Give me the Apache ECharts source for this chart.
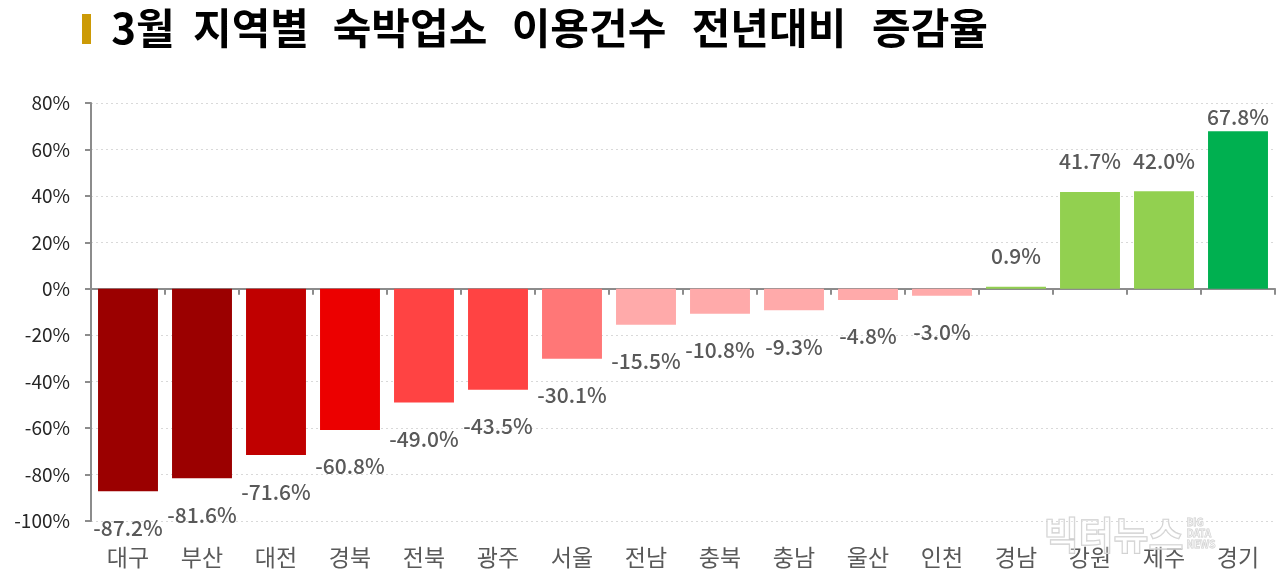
<!DOCTYPE html>
<html><head><meta charset="utf-8">
<script src="https://cdn.jsdelivr.net/npm/echarts@6/dist/echarts.min.js"></script>
<style>html,body{margin:0;padding:0;background:#fff}#c{width:1280px;height:584px}</style>
</head><body><div id="c"></div>
<script>
const categories = ['대구','부산','대전','경북','전북','광주','서울','전남','충북','충남','울산','인천','경남','강원','제주','경기'];
const values = [-87.2,-81.6,-71.6,-60.8,-49.0,-43.5,-30.1,-15.5,-10.8,-9.3,-4.8,-3.0,0.9,41.7,42.0,67.8];
const colors = ['#9B0000','#9B0000','#C00000','#EC0000','#FF4343','#FF4343','#FF7777','#FFAAAA','#FFAAAA','#FFAAAA','#FFAAAA','#FFAAAA','#92D050','#92D050','#92D050','#00B050'];
const yTicks = [-100,-80,-60,-40,-20,0,20,40,60,80];
const titleWords = ['3월','지역별','숙박업소','이용건수','전년대비','증감율'];

const FONT = '"Noto Sans CJK KR", sans-serif';
const chart = echarts.init(document.getElementById('c'));
const data = values.map((v,i)=>({
  value: v,
  itemStyle: {color: colors[i]},
  label: {
    position: v < 0 ? 'bottom' : 'top',
    distance: v < 0 ? 26 : (v > 60 ? 4 : 20)
  }
}));
const wordCX = [143, 251, 410, 589, 769, 930];
const titleGraphics = titleWords.map((w,i)=>({type:'text', x:wordCX[i], y:28, style:{text:w, font:'bold 42px '+FONT, fill:'#000', align:'center', verticalAlign:'middle'}}));
chart.setOption({
  animation: false,
  graphic: [
    {type:'rect', left:82, top:14, shape:{width:9,height:30}, style:{fill:'#CC9A06'}},
    ...titleGraphics,
    {type:'text', left:1043, top:515, z:100, style:{text:'빅터뉴스', font:'bold 38px '+FONT, fill:'rgba(255,255,255,0.3)', stroke:'#cfcfcf', lineWidth:1.3}},
    {type:'text', left:1186, top:517, z:100, style:{text:'BIG\nDATA\nNEWS', font:'bold 10px '+FONT, lineHeight:11, fill:'rgba(255,255,255,0.3)', stroke:'#cfcfcf', lineWidth:0.8}}
  ],
  grid: {left:91, right:5, top:103, bottom:63},
  xAxis: [
    {type:'category', data:categories, position:'bottom',
     axisLine:{onZero:true, lineStyle:{color:'#8c8c8c', width:2}},
     axisTick:{show:true, inside:false, length:6, lineStyle:{color:'#8c8c8c', width:2}},
     axisLabel:{show:false}},
    {type:'category', data:categories, position:'bottom',
     axisLine:{show:false, onZero:false}, axisTick:{show:false},
     axisLabel:{show:true, color:'#595959', fontSize:23, fontFamily:FONT, margin:25}}
  ],
  yAxis: {type:'value', min:-100, max:80, interval:20,
    axisLine:{show:true, lineStyle:{color:'#8c8c8c', width:2}},
    axisTick:{show:true, length:6, lineStyle:{color:'#8c8c8c', width:2}},
    splitLine:{show:true, lineStyle:{color:'#d9d9d9', type:[2,3], width:1}},
    axisLabel:{color:'#262626', fontSize:19, fontFamily:FONT, margin:21, formatter:v=>v+'%'}},
  series: [{
    type:'bar', data:data, xAxisIndex:0, barCategoryGap:'19%',
    label:{show:true, color:'#595959', fontSize:21, fontWeight:500, fontFamily:FONT, formatter:p=>p.value.toFixed(1)+'%'}
  }]
});
</script></body></html>
